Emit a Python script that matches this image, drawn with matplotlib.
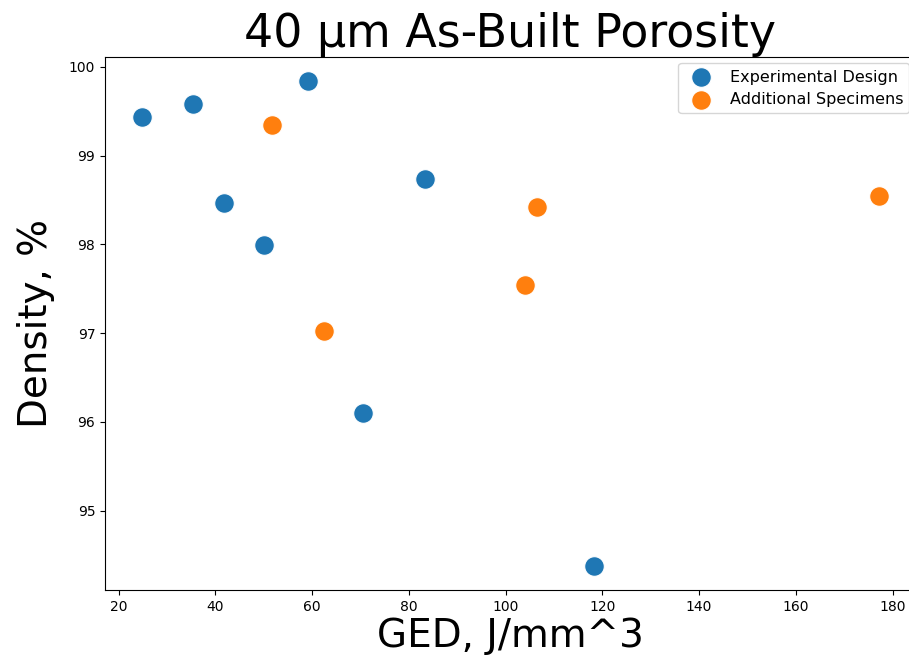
import matplotlib.pyplot as plt

# Experimental design specimens
exp_ged = [24.8, 35.3, 41.7, 50.0, 59.1, 83.4, 70.6, 118.3]
exp_density = [99.44, 99.58, 98.47, 97.99, 99.84, 98.74, 96.10, 94.38]

# Additional specimens
add_ged = [51.8, 62.4, 106.4, 104.1, 177.2]
add_density = [99.35, 97.03, 98.42, 97.54, 98.54]

fig = plt.figure(figsize=(9.09, 6.63), dpi=100)
ax = fig.add_axes([0.1155, 0.110, 0.892, 0.8044])

ax.scatter(exp_ged, exp_density, s=200, color='#1f77b4', edgecolors='white',
           linewidths=0.8, label='Experimental Design')
ax.scatter(add_ged, add_density, s=200, color='#ff7f0e', edgecolors='white',
           linewidths=0.8, label='Additional Specimens')

ax.set_title('40 µm As-Built Porosity', fontsize=33, pad=2)
ax.set_xlabel('GED, J/mm^3', fontsize=28, labelpad=2)
ax.set_ylabel('Density, %', fontsize=28, labelpad=10)
ax.legend(loc='upper right', fontsize=11.5, borderaxespad=0.4,
          labelspacing=0.45)

fig.savefig('out.png', dpi=100)
